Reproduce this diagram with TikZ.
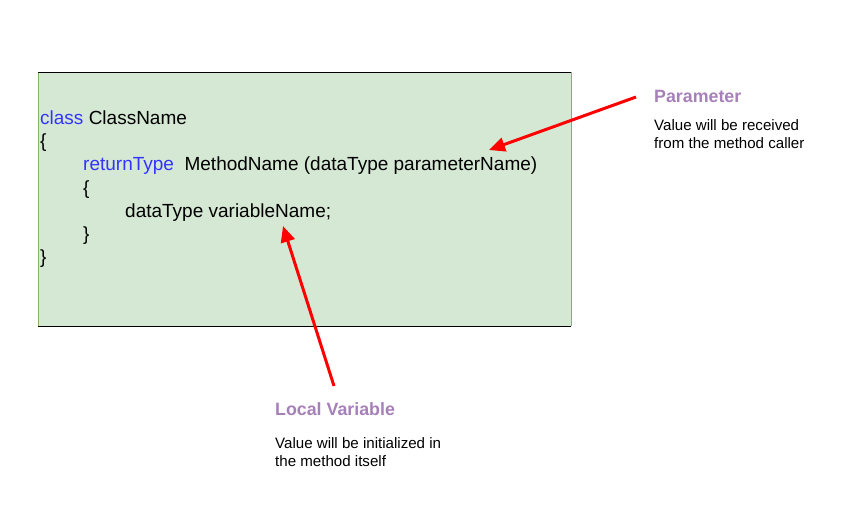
\documentclass[tikz,border=0pt]{standalone}
\usepackage{fontspec}
\setmainfont{Liberation Sans}
\usetikzlibrary{arrows.meta}
\definecolor{boxfill}{HTML}{D5E8D4}
\definecolor{boxside}{HTML}{82B366}
\definecolor{kw}{HTML}{3333FF}
\definecolor{lbl}{HTML}{A680B8}
\definecolor{arr}{HTML}{FF0000}
\tikzset{
  code/.style={anchor=base west, inner sep=0pt, font=\fontsize{19}{23}\selectfont},
  title/.style={anchor=base west, inner sep=0pt, font=\fontsize{17.8}{21}\selectfont\bfseries, text=lbl},
  desc/.style={anchor=base west, inner sep=0pt, align=left, font=\fontsize{15.1}{18}\selectfont},
  pointer/.style={draw=arr, line width=3pt, -{Triangle[length=16pt,width=14pt]}}
}
\begin{document}
\begin{tikzpicture}[x=1pt,y=-1pt]
\useasboundingbox (0,0) rectangle (845,505);
\fill[boxfill] (38,72) rectangle (571,326);
\draw[boxside] (38,72) -- (38,326) (571,72) -- (571,326);
\draw[black] (38,72) -- (571,72) (38,326) -- (571,326);
\node[code] (l1) at (40,125) {\textcolor{kw}{class} ClassName};
\node[code] (l2) at (40,148) {\{};
\node[code] (l3) at (83,171) {\textcolor{kw}{returnType}\ \ MethodName (dataType parameterName)};
\node[code] (l4) at (83,194) {\{};
\node[code] (l5) at (125,217) {dataType variableName;};
\node[code] (l6) at (83,240) {\}};
\node[code] (l7) at (40,263) {\}};
\node[title] (pt) at (654,103) {Parameter};
\node[desc] (pd) at (654,149) {Value will be received\\from the method caller};
\node[title] (lt) at (275,415) {Local Variable};
\node[desc] (ld) at (275,466) {Value will be initialized in\\the method itself};
\coordinate (ps) at (636,97);
\coordinate (pe) at (489,150);
\coordinate (ls) at (334,386);
\coordinate (le) at (283,226);
\draw[pointer] (ps) -- (pe);
\draw[pointer] (ls) -- (le);
\end{tikzpicture}
\end{document}
